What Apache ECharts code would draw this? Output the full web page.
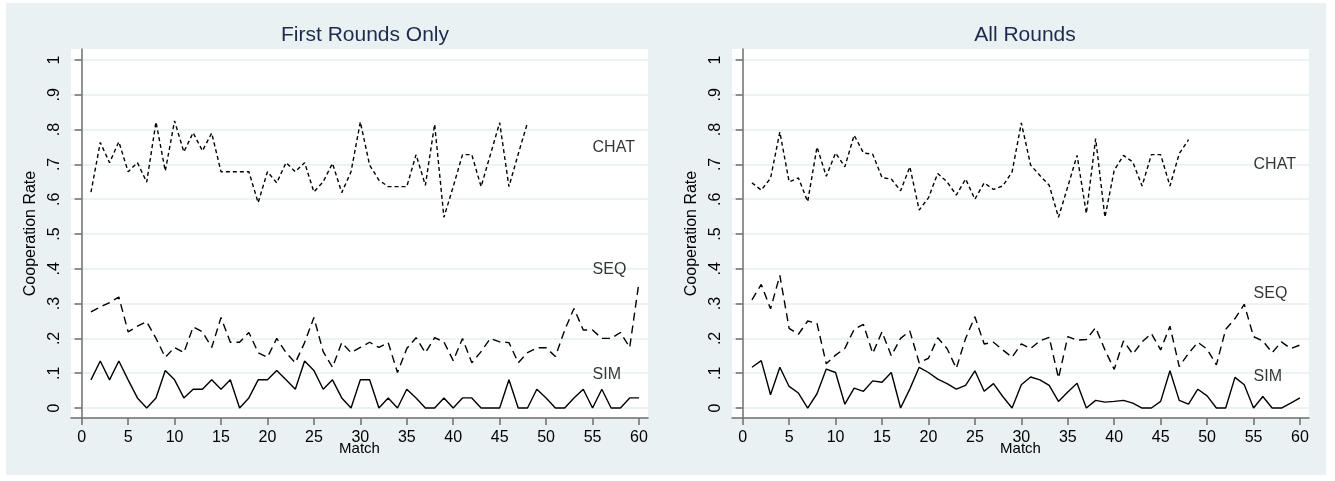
<!DOCTYPE html>
<html>
<head>
<meta charset="utf-8">
<script src="https://cdn.jsdelivr.net/npm/echarts@6/dist/echarts.min.js"></script>
<style>
  html, body { margin: 0; padding: 0; background: #fff; }
  #frame { position: absolute; left: 6px; top: 3px; width: 1320px; height: 472px; background: #eaf1f3; }
  #chart { position: absolute; left: 0; top: 0; width: 1335px; height: 481px; }
</style>
</head>
<body>
<div id="frame"></div>
<div id="chart"></div>
<script>
const matches = [1, 2, 3, 4, 5, 6, 7, 8, 9, 10, 11, 12, 13, 14, 15, 16, 17, 18, 19, 20,
  21, 22, 23, 24, 25, 26, 27, 28, 29, 30, 31, 32, 33, 34, 35, 36, 37, 38, 39, 40,
  41, 42, 43, 44, 45, 46, 47, 48, 49, 50, 51, 52, 53, 54, 55, 56, 57, 58, 59, 60];

const xTicks = [0, 5, 10, 15, 20, 25, 30, 35, 40, 45, 50, 55, 60];
const yTicks = [0, 0.1, 0.2, 0.3, 0.4, 0.5, 0.6, 0.7, 0.8, 0.9, 1];

// first rounds only
const chatFirst = [.62, .763, .705, .765, .679, .705, .649, .822, .681, .825,
  .736, .791, .739, .79, .679, .679, .679, .679, .59, .679,
  .647, .705, .679, .705, .621, .65, .703, .619, .679, .822,
  .698, .655, .636, .636, .636, .728, .64, .815, .548, .636,
  .728, .728, .636, .728, .82, .636, .73, .82];
const seqFirst = [.276, .29, .303, .319, .219, .235, .248, .2, .146, .174,
  .159, .233, .219, .174, .26, .189, .189, .217, .159, .146,
  .2, .159, .13, .188, .26, .162, .117, .188, .159, .174,
  .189, .174, .188, .102, .171, .202, .159, .202, .19, .136,
  .2, .13, .162, .2, .19, .188, .13, .159, .173, .173,
  .148, .224, .286, .224, .224, .2, .2, .217, .174, .362];
const simFirst = [.081, .135, .081, .135, .081, .029, 0, .029, .108, .081,
  .029, .054, .054, .081, .054, .081, 0, .029, .081, .081,
  .108, .081, .054, .135, .108, .054, .081, .029, 0, .081,
  .081, 0, .029, 0, .054, .029, 0, 0, .029, 0,
  .029, .029, 0, 0, 0, .081, 0, 0, .054, .029,
  0, 0, .029, .054, 0, .054, 0, 0, .029, .029];

// all rounds
const chatAll = [.647, .626, .66, .793, .65, .661, .593, .75, .666, .733,
  .693, .784, .733, .729, .662, .658, .624, .693, .569, .604,
  .674, .65, .612, .658, .6, .647, .628, .638, .678, .819,
  .698, .668, .64, .548, .636, .726, .559, .774, .548, .683,
  .726, .707, .638, .728, .728, .638, .731, .771];
const seqAll = [.311, .355, .285, .381, .229, .212, .25, .243, .127, .152,
  .171, .226, .24, .157, .219, .15, .2, .221, .13, .143,
  .202, .171, .114, .2, .262, .184, .189, .167, .146, .184,
  .171, .193, .203, .086, .205, .195, .197, .231, .167, .111,
  .193, .155, .19, .214, .167, .235, .119, .157, .189, .169,
  .124, .226, .257, .298, .205, .193, .159, .19, .171, .181];
const simAll = [.117, .136, .038, .117, .062, .043, 0, .041, .112, .102,
  .011, .057, .048, .078, .074, .102, 0, .055, .117, .102,
  .083, .07, .054, .065, .107, .048, .07, .033, 0, .067,
  .089, .081, .065, .019, .046, .071, 0, .022, .017, .019,
  .022, .014, 0, 0, .019, .107, .022, .011, .054, .035,
  0, 0, .088, .067, 0, .033, 0, 0, .014, .029];

const seriesNames = ['CHAT', 'SEQ', 'SIM'];
const labelMatch = 55;
const labelFirst = [.748, .398, .096];
const labelAll = [.699, .328, .091];

const panelTitles = ['First Rounds Only', 'All Rounds'];

const FONT = 'Liberation Sans, Arial, sans-serif';

function pairs(vals) {
  return vals.map((v, i) => [matches[i], v]);
}

function fmtY(v) {
  let r = Math.round(v * 10) / 10;
  if (r === 0) return '0';
  if (r === 1) return '1';
  return r.toFixed(1).replace(/^0/, '');
}

const grids = [
  { left: 71, right: 687, top: 49, bottom: 63 },
  { left: 732, right: 26, top: 49, bottom: 63 },
].map(g => Object.assign({ show: true, backgroundColor: '#fff', borderWidth: 0, containLabel: false }, g));

function xAxisFor(idx) {
  return {
    gridIndex: idx,
    type: 'value',
    min: -1.15,
    max: 60.97,
    name: 'Match',
    nameLocation: 'middle',
    nameGap: 23,
    nameMoveOverlap: false,
    nameTextStyle: { color: '#000', fontSize: 15, fontFamily: FONT },
    axisLine: { onZero: false, lineStyle: { color: '#6e6e6e', width: 1.5 } },
    axisTick: { customValues: xTicks, length: 7, lineStyle: { color: '#6e6e6e', width: 1.5 } },
    axisLabel: { customValues: xTicks, color: '#000', fontSize: 16, fontFamily: FONT, margin: 12 },
    splitLine: { show: false },
  };
}

function yAxisFor(idx) {
  return {
    gridIndex: idx,
    type: 'value',
    min: -0.0287,
    max: 1.0316,
    name: 'Cooperation Rate',
    nameLocation: 'middle',
    nameGap: 32,
    nameMoveOverlap: false,
    nameTextStyle: { color: '#000', fontSize: 16, fontFamily: FONT },
    axisLine: { show: true, lineStyle: { color: '#6e6e6e', width: 1.5 } },
    axisTick: { show: true, customValues: yTicks, length: 7, lineStyle: { color: '#6e6e6e', width: 1.5 } },
    axisLabel: { customValues: yTicks, rotate: 90, color: '#000', fontSize: 16, fontFamily: FONT, margin: 8, formatter: fmtY },
    splitLine: { show: true, lineStyle: { color: '#e6eff2', width: 1.5 } },
  };
}

function lineSeries(idx, vals, dash) {
  return {
    type: 'line',
    xAxisIndex: idx,
    yAxisIndex: idx,
    data: pairs(vals),
    symbol: 'none',
    silent: true,
    lineStyle: { color: '#000', width: 1.4, type: dash },
  };
}

function labelSeries(idx, ys) {
  return {
    type: 'scatter',
    xAxisIndex: idx,
    yAxisIndex: idx,
    symbolSize: 0,
    silent: true,
    data: ys.map((y, i) => ({ value: [labelMatch, y], name: seriesNames[i] })),
    label: {
      show: true,
      position: 'right',
      distance: 0,
      formatter: p => p.name,
      color: '#000',
      fontSize: 16,
      fontFamily: FONT,
    },
  };
}

const myChart = echarts.init(document.getElementById('chart'), null, { renderer: 'canvas' });
myChart.setOption({
  animation: false,
  backgroundColor: 'transparent',
  title: panelTitles.map((t, i) => ({
    text: t,
    left: i === 0 ? 360 : 1020,
    top: 20,
    textAlign: 'center',
    textStyle: { color: '#1c2a4e', fontSize: 21, fontWeight: 'normal', fontFamily: FONT },
  })),
  grid: grids,
  xAxis: [xAxisFor(0), xAxisFor(1)],
  yAxis: [yAxisFor(0), yAxisFor(1)],
  series: [
    lineSeries(0, chatFirst, [4, 3]),
    lineSeries(0, seqFirst, [8, 5]),
    lineSeries(0, simFirst, 'solid'),
    labelSeries(0, labelFirst),
    lineSeries(1, chatAll, [4, 3]),
    lineSeries(1, seqAll, [8, 5]),
    lineSeries(1, simAll, 'solid'),
    labelSeries(1, labelAll),
  ],
});
window.addEventListener('resize', myChart.resize);
</script>
</body>
</html>
